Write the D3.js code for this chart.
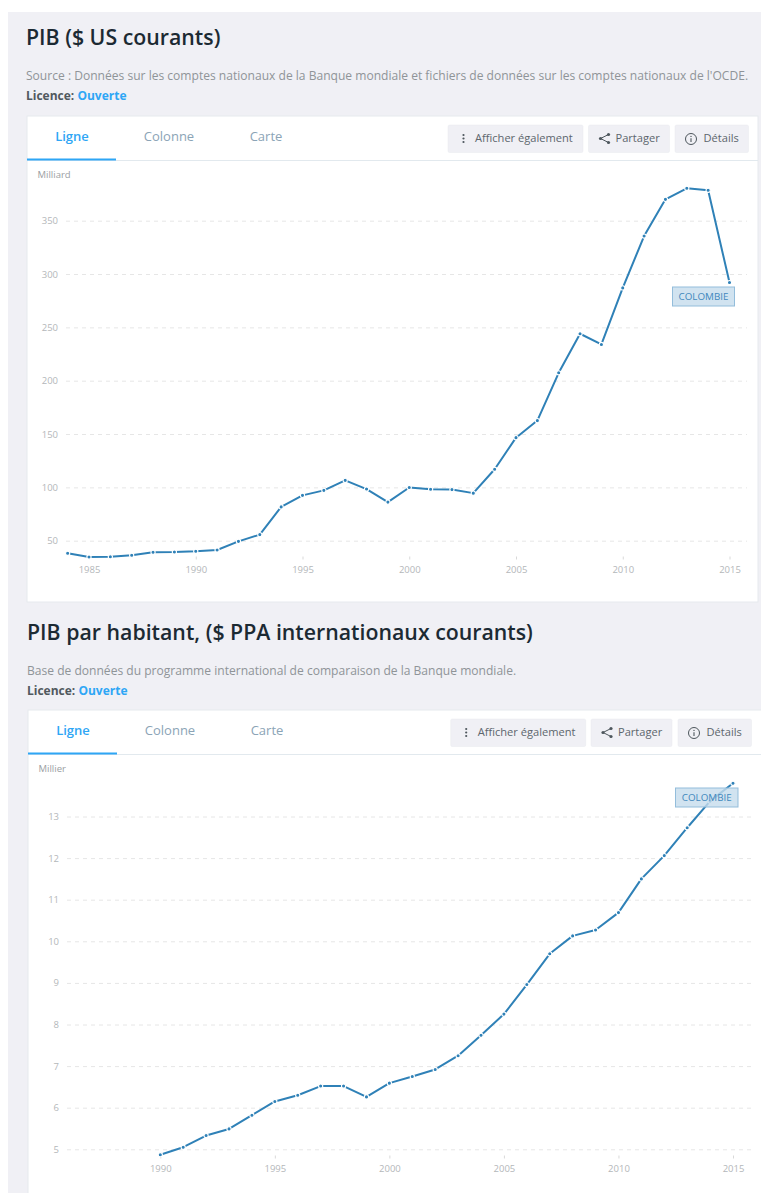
<!DOCTYPE html>
<html lang="fr">
<head>
<meta charset="utf-8">
<title>PIB Colombie</title>
<script src="https://cdn.jsdelivr.net/npm/d3@7"></script>
<style>
  html, body { margin: 0; padding: 0; background: #fff; overflow: hidden; }
  svg { display: block; }
  text { font-family: "Open Sans", sans-serif; }
  .tick text { font-size: 9.5px; fill: #b4b7ba; }
</style>
</head>
<body>
<div id="chart"></div>
<script>
const COLORS = {
  panel: "#f0f0f5",
  line: "#2f81b7",
  blue: "#2ea6f5",
  title: "#1c2a33",
  muted: "#8f9498",
  tab: "#8ba4b6",
  button: "#5d666d",
  grid: "#e6e6e6",
};

const gdpYears = d3.range(1984, 2016);
const gdpValues = [
  38.2, 34.7, 34.9, 36.3, 39.2, 39.4, 40.1, 41.3, 49.4, 55.7, 81.7, 92.5, 97.2, 106.6, 98.4, 86.2,
  99.9, 98.2, 97.9, 94.6, 117, 146.6, 162.6, 207.4, 244, 234, 287, 335.6, 370, 380.4, 378.5, 292,
];
const gdpYTicks = [50, 100, 150, 200, 250, 300, 350];
const gdpXTicks = [1985, 1990, 1995, 2000, 2005, 2010, 2015];

const ppaYears = d3.range(1990, 2016);
const ppaValues = [
  4.87, 5.05, 5.33, 5.49, 5.82, 6.15, 6.3, 6.52, 6.52, 6.26, 6.59, 6.75, 6.92, 7.25, 7.74, 8.25,
  8.96, 9.7, 10.13, 10.27, 10.69, 11.5, 12.06, 12.73, 13.37, 13.8,
];
const ppaYTicks = [5, 6, 7, 8, 9, 10, 11, 12, 13];
const ppaXTicks = [1990, 1995, 2000, 2005, 2010, 2015];

const svg = d3.select("#chart").append("svg").attr("width", 761).attr("height", 1193);

svg.append("rect").attr("x", 8).attr("y", 12).attr("width", 753).attr("height", 1181).attr("fill", COLORS.panel);

drawPanel({
  title: "PIB ($ US courants)",
  source: "Source : Données sur les comptes nationaux de la Banque mondiale et fichiers de données sur les comptes nationaux de l'OCDE.",
  unit: "Milliard",
  years: gdpYears,
  values: gdpValues,
  yTicks: gdpYTicks,
  xTicks: gdpXTicks,
  xDomain: [1985, 2015],
  xRange: [89, 729.5],
  yDomain: [50, 350],
  yRange: [540.7, 220.7],
  axisY: 556.5,
  titleX: 26,
  titleY: 45,
  cardX: 27,
  cardY: 116,
  cardW: 731,
  cardH: 486,
  gridX: [66, 747],
  labelBox: { x: 672.5, y: 287, w: 62, h: 19 },
  buttonsX: [448, 588.5, 675],
});

drawPanel({
  title: "PIB par habitant, ($ PPA internationaux courants)",
  source: "Base de données du programme international de comparaison de la Banque mondiale.",
  unit: "Millier",
  years: ppaYears,
  values: ppaValues,
  yTicks: ppaYTicks,
  xTicks: ppaXTicks,
  xDomain: [1990, 2015],
  xRange: [160.3, 733],
  yDomain: [5, 13],
  yRange: [1149.3, 816.5],
  axisY: 1155.5,
  titleX: 27,
  titleY: 640,
  cardX: 28,
  cardY: 710,
  cardW: 740,
  cardH: 500,
  gridX: [67, 752],
  labelBox: { x: 675.5, y: 788, w: 62.5, h: 19 },
  buttonsX: [450.7, 591, 678],
});

function drawPanel(p) {
  const g = svg.append("g");

  g.append("text").attr("x", p.titleX).attr("y", p.titleY)
    .attr("font-size", 21.3).attr("font-weight", 600).attr("fill", COLORS.title).text(p.title);
  g.append("text").attr("x", p.titleX).attr("y", p.titleY + 34.5)
    .attr("font-size", 12.07).attr("fill", COLORS.muted).text(p.source);

  const licence = g.append("text").attr("x", p.titleX).attr("y", p.titleY + 55)
    .attr("font-size", 12).attr("font-weight", 700).attr("fill", "#50585e");
  licence.append("tspan").text("Licence: ");
  licence.append("tspan").attr("fill", COLORS.blue).text("Ouverte");

  // card and tab bar
  g.append("rect").attr("x", p.cardX).attr("y", p.cardY).attr("width", p.cardW).attr("height", p.cardH)
    .attr("fill", "#fff").attr("stroke", "#e6e9ee").attr("stroke-width", 1);
  g.append("line").attr("x1", p.cardX).attr("x2", p.cardX + p.cardW)
    .attr("y1", p.cardY + 44.5).attr("y2", p.cardY + 44.5).attr("stroke", "#e2e9ee");
  g.append("rect").attr("x", p.cardX).attr("y", p.cardY + 42.5).attr("width", 89).attr("height", 2).attr("fill", COLORS.blue);

  [["Ligne", 45, COLORS.blue], ["Colonne", 142, COLORS.tab], ["Carte", 239, COLORS.tab]].forEach(([label, dx, color]) => {
    g.append("text").attr("x", p.cardX + dx).attr("y", p.cardY + 25)
      .attr("text-anchor", "middle").attr("font-size", 13).attr("font-weight", label === "Ligne" ? 600 : 400)
      .attr("fill", color).text(label);
  });

  drawButtons(g, p);

  g.append("text").attr("x", p.cardX + 10.5).attr("y", p.cardY + 61.5)
    .attr("font-size", 9.5).attr("fill", "#9a9ea2").text(p.unit);

  const x = d3.scaleLinear().domain(p.xDomain).range(p.xRange);
  const y = d3.scaleLinear().domain(p.yDomain).range(p.yRange);

  const yAxis = g.append("g")
    .attr("transform", `translate(${p.gridX[0]},0)`)
    .call(d3.axisLeft(y).tickValues(p.yTicks).tickSize(-(p.gridX[1] - p.gridX[0])).tickPadding(8));
  yAxis.select(".domain").remove();
  yAxis.selectAll(".tick line").attr("stroke", COLORS.grid).attr("stroke-dasharray", "4,4");

  const xAxis = g.append("g")
    .attr("transform", `translate(0,${p.axisY})`)
    .call(d3.axisBottom(x).tickValues(p.xTicks).tickFormat(d3.format("d")).tickSize(3).tickPadding(6.5));
  xAxis.select(".domain").remove();
  xAxis.selectAll(".tick line").attr("stroke", "#d9d9d9");

  const points = p.years.map((year, i) => ({ year, value: p.values[i] }));
  const line = d3.line().x((d) => x(d.year)).y((d) => y(d.value));

  g.append("path").datum(points)
    .attr("fill", "none").attr("stroke", COLORS.line).attr("stroke-width", 2)
    .attr("stroke-linejoin", "round").attr("d", line);

  g.selectAll(null).data(points).join("circle")
    .attr("cx", (d) => x(d.year)).attr("cy", (d) => y(d.value)).attr("r", 2.1)
    .attr("fill", COLORS.line).attr("stroke", "#fff").attr("stroke-width", 1.1);

  const box = p.labelBox;
  g.append("rect").attr("x", box.x).attr("y", box.y).attr("width", box.w).attr("height", box.h)
    .attr("fill", "#c6dcec").attr("fill-opacity", 0.8).attr("stroke", "#93bddb").attr("stroke-width", 1);
  g.append("text").attr("x", box.x + box.w / 2).attr("y", box.y + 13.2)
    .attr("text-anchor", "middle").attr("font-size", 9.8).attr("fill", "#3f88bd").text("COLOMBIE");
}

function drawButtons(g, p) {
  const widths = [135, 81, 73.5];
  const labels = ["Afficher également", "Partager", "Détails"];
  const textDx = [27, 27, 28.5];
  const top = p.cardY + 9;

  labels.forEach((label, i) => {
    const left = p.buttonsX[i];
    g.append("rect").attr("x", left).attr("y", top).attr("width", widths[i]).attr("height", 27.5)
      .attr("rx", 1.5).attr("fill", COLORS.panel).attr("stroke", "#e9eaef").attr("stroke-width", 0.5);
    g.append("text").attr("x", left + textDx[i]).attr("y", top + 16.8)
      .attr("font-size", 11.1).attr("fill", COLORS.button).text(label);
  });

  // icons
  const mid = top + 13.5;
  const dots = p.buttonsX[0] + 15.5;
  [-3.5, 0, 3.5].forEach((dy) => {
    g.append("circle").attr("cx", dots).attr("cy", mid + dy).attr("r", 1.1).attr("fill", "#4d565c");
  });

  const share = p.buttonsX[1] + 16;
  const shareIcon = g.append("g").attr("transform", `translate(${share},${mid})`);
  shareIcon.append("path").attr("d", "M4,-4 L-4,0 L4,4").attr("fill", "none").attr("stroke", "#4d565c").attr("stroke-width", 1);
  [[4, -4], [-4, 0], [4, 4]].forEach(([cx, cy]) => {
    shareIcon.append("circle").attr("cx", cx).attr("cy", cy).attr("r", 1.6).attr("fill", "#4d565c");
  });

  const info = g.append("g").attr("transform", `translate(${p.buttonsX[2] + 16},${mid + 0.5})`);
  info.append("circle").attr("r", 5.5).attr("fill", "none").attr("stroke", "#4d565c").attr("stroke-width", 1);
  info.append("line").attr("y1", -0.8).attr("y2", 3).attr("stroke", "#4d565c").attr("stroke-width", 1.1);
  info.append("circle").attr("cy", -2.6).attr("r", 0.7).attr("fill", "#4d565c");
}
</script>
</body>
</html>
